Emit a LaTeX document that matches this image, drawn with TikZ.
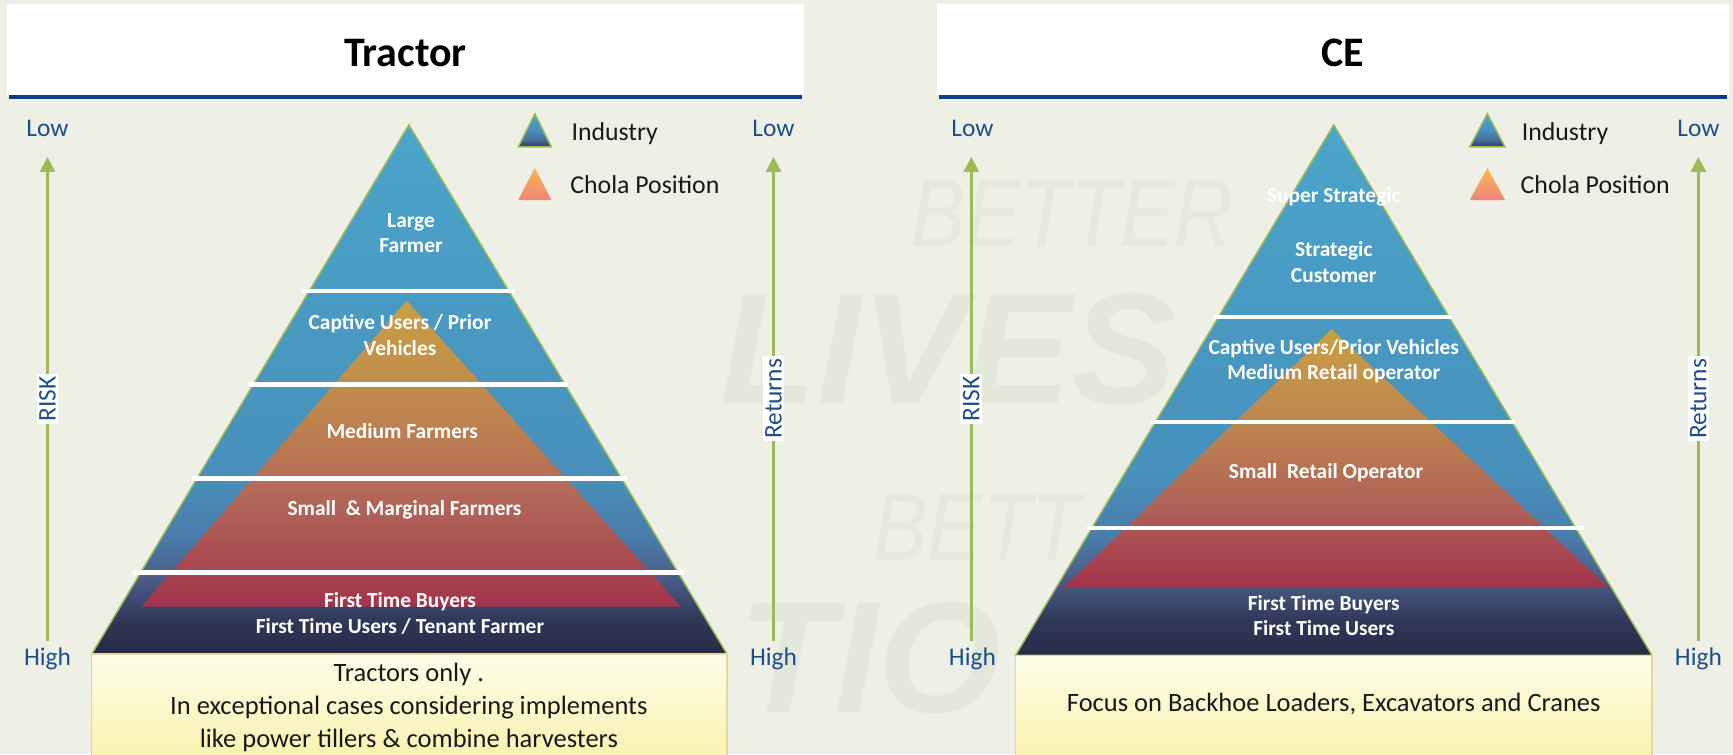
\documentclass[tikz,border=0pt]{standalone}
\usepackage{fontspec}
\setmainfont{Carlito}
\newfontfamily\wmfont{Liberation Sans}
\usetikzlibrary{arrows.meta}
\definecolor{bg}{HTML}{EEF0E6}
\definecolor{wm}{HTML}{E6E9DF}
\definecolor{wmd}{HTML}{E4E7DC}
\definecolor{tblue}{HTML}{0E3F86}
\definecolor{axblue}{HTML}{1F4E8C}
\definecolor{agreen}{HTML}{9BBB59}
\definecolor{pgreen}{HTML}{9BBB59}
\definecolor{yborder}{HTML}{E3D8A0}
\definecolor{in0}{HTML}{262B47}
\definecolor{in1}{HTML}{2F3657}
\definecolor{in2}{HTML}{4A5B86}
\definecolor{in3}{HTML}{4A7CAA}
\definecolor{in4}{HTML}{4790BB}
\definecolor{in5}{HTML}{4BA5CB}
\definecolor{ch0}{HTML}{A2344B}
\definecolor{ch1}{HTML}{AF6058}
\definecolor{ch2}{HTML}{BD8250}
\definecolor{ch3}{HTML}{C8A042}
\definecolor{lg0}{HTML}{2D3557}
\definecolor{lg1}{HTML}{4A6A9A}
\definecolor{lc0}{HTML}{F0857A}
\definecolor{lc1}{HTML}{F7B84F}
\definecolor{yb0}{HTML}{FAF3B0}
\definecolor{yb1}{HTML}{FEFDE8}
\pgfdeclareverticalshading{industry}{100bp}{color(0bp)=(in0);color(25bp)=(in0);color(28bp)=(in1);color(32bp)=(in2);color(36bp)=(in3);color(42bp)=(in4);color(75bp)=(in5);color(100bp)=(in5)}
\pgfdeclareverticalshading{chola}{100bp}{color(0bp)=(ch0);color(25bp)=(ch0);color(40bp)=(ch1);color(55bp)=(ch2);color(75bp)=(ch3);color(100bp)=(ch3)}
\pgfdeclareverticalshading{legind}{100bp}{color(0bp)=(lg0);color(25bp)=(lg0);color(35bp)=(lg1);color(50bp)=(in4);color(75bp)=(in5);color(100bp)=(in5)}
\pgfdeclareverticalshading{legchola}{100bp}{color(0bp)=(lc0);color(25bp)=(lc0);color(75bp)=(lc1);color(100bp)=(lc1)}
\pgfdeclareverticalshading{ybox}{100bp}{color(0bp)=(yb0);color(25bp)=(yb0);color(75bp)=(yb1);color(100bp)=(yb1)}
\begin{document}
\begin{tikzpicture}[x=1.105pt,y=-1.105pt,
  lbl/.style={text=white,font=\fontsize{21.4pt}{25.6pt}\selectfont\bfseries,align=center,inner sep=0pt},
  axl/.style={text=axblue,font=\fontsize{25.4pt}{30pt}\selectfont,inner sep=0pt},
  axarrow/.style={draw=agreen,line width=3pt,-{Triangle[width=15pt,length=15pt]}},
  sep/.style={draw=white,line width=4.2pt},
  leg/.style={font=\fontsize{25.8pt}{30pt}\selectfont,text=black!90,anchor=west,inner sep=0pt},
  boxt/.style={font=\fontsize{26.5pt}{33pt}\selectfont,align=center,inner sep=0pt,text=black!90},
  ttl/.style={font=\fontsize{42pt}{50pt}\selectfont\bfseries,inner sep=0pt},
  vlab/.style={rotate=90,fill=white,text=axblue,font=\fontsize{25.4pt}{30pt}\selectfont,inner sep=2.5pt},
  wmthin/.style={font=\wmfont\itshape\fontsize{96pt}{96pt}\selectfont,text=wm,anchor=base west,inner sep=0pt,xscale=0.85,transform shape},
  wmbold/.style={font=\wmfont\bfseries\itshape\fontsize{158pt}{158pt}\selectfont,text=wmd,anchor=base west,inner sep=0pt}
]
\fill[bg] (0,0) rectangle (1568.3,682.4);
\useasboundingbox (0,0) rectangle (1568.3,682.4);

% ===== watermark =====
\node[wmthin] (w1) at (825,223) {BETTER};
\node[wmbold] (w2) at (652,365) {LIVES};
\node[wmthin] (w3) at (790,507) {BETT};
\node[wmbold] (w4) at (668,645) {TIO};

% ===== title bars =====
\fill[white] (6,4) rectangle (728,86);
\draw[tblue,line width=4pt] (8,87.5) -- (726,87.5);
\node[ttl] (t1) at (367,48) {Tractor};
\fill[white] (848,4) rectangle (1565,86);
\draw[tblue,line width=4pt] (850,87.5) -- (1563,87.5);
\node[ttl] (t2) at (1215,48) {CE};

% ===== LEFT PANEL =====
\shadedraw[shading=industry,draw=pgreen,line width=1.5pt] (370,113) -- (658,592) -- (83,592) -- cycle;
\shade[shading=chola] (368,272) -- (616,549) -- (128,549) -- cycle;
\draw[sep] (273,263) -- (466,263);
\draw[sep] (224,348) -- (514,348);
\draw[sep] (174,433) -- (567,433);
\draw[sep] (120,518) -- (619,518);
\node[lbl] (l1) at (372,211) {Large\\Farmer};
\node[lbl] (l2) at (362,303) {Captive Users / Prior\\Vehicles};
\node[lbl] (l3) at (364,390) {Medium Farmers};
\node[lbl] (l4) at (366,461) {Small\ \ \& Marginal Farmers};
\node[lbl] (l5) at (362,555) {First Time Buyers\\First Time Users / Tenant Farmer};
\shadedraw[shading=ybox,draw=yborder,line width=1.5pt] (83,592) rectangle (658,684);
\node[boxt] (b1) at (370,640) {Tractors only .\\In exceptional cases considering implements\\like power tillers \& combine harvesters};

% legend left
\shadedraw[shading=legind,draw=pgreen,line width=1.5pt] (484,103) -- (499,133) -- (469,133) -- cycle;
\node[leg] (g1) at (517,121) {Industry};
\shade[shading=legchola] (484,152) -- (499,181) -- (469,181) -- cycle;
\node[leg] (g2) at (516,167) {Chola Position};

% axes left
\node[axl] (lowA) at (43,116) {Low};
\node[axl] (highA) at (43,596) {High};
\coordinate (a1b) at (43,580);
\coordinate (a1t) at (43,142);
\draw[axarrow] (a1b) -- (a1t);
\node[vlab] (riskA) at (43,361) {RISK};
\node[axl] (lowB) at (700,116) {Low};
\node[axl] (highB) at (700,596) {High};
\coordinate (a2b) at (700,580);
\coordinate (a2t) at (700,142);
\draw[axarrow] (a2b) -- (a2t);
\node[vlab] (retB) at (700,361) {Returns};

% ===== RIGHT PANEL =====
\shadedraw[shading=industry,draw=pgreen,line width=1.5pt] (1207,113) -- (1495,593) -- (919,593) -- cycle;
\shade[shading=chola] (1205,298) -- (1455,531) -- (963,531) -- cycle;
\draw[sep] (1099,287) -- (1314,287);
\draw[sep] (1042,382) -- (1371,382);
\draw[sep] (984,477.5) -- (1433,477.5);
\node[lbl] (r0) at (1207,178) {Super Strategic};
\node[lbl] (r1) at (1207,237) {Strategic\\Customer};
\node[lbl] (r2) at (1207,327) {Captive Users/Prior Vehicles\\Medium Retail operator};
\node[lbl] (r3) at (1200,428) {Small\ \ Retail Operator};
\node[lbl] (r4) at (1198,557) {First Time Buyers\\First Time Users};
\shadedraw[shading=ybox,draw=yborder,line width=1.5pt] (919,593) rectangle (1495,684);
\node[boxt] (b2) at (1207,637) {Focus on Backhoe Loaders, Excavators and Cranes};

% legend right
\shadedraw[shading=legind,draw=pgreen,line width=1.5pt] (1346,103) -- (1362,133) -- (1330,133) -- cycle;
\node[leg] (g3) at (1377,121) {Industry};
\shade[shading=legchola] (1346,152) -- (1362,181) -- (1330,181) -- cycle;
\node[leg] (g4) at (1376,167) {Chola Position};

% axes right
\node[axl] (lowC) at (880,116) {Low};
\node[axl] (highC) at (880,596) {High};
\coordinate (a3b) at (879,580);
\coordinate (a3t) at (879,142);
\draw[axarrow] (a3b) -- (a3t);
\node[vlab] (riskC) at (879,361) {RISK};
\node[axl] (lowD) at (1537,116) {Low};
\node[axl] (highD) at (1537,596) {High};
\coordinate (a4b) at (1537,580);
\coordinate (a4t) at (1537,142);
\draw[axarrow] (a4b) -- (a4t);
\node[vlab] (retD) at (1537,361) {Returns};
\end{tikzpicture}
\end{document}
